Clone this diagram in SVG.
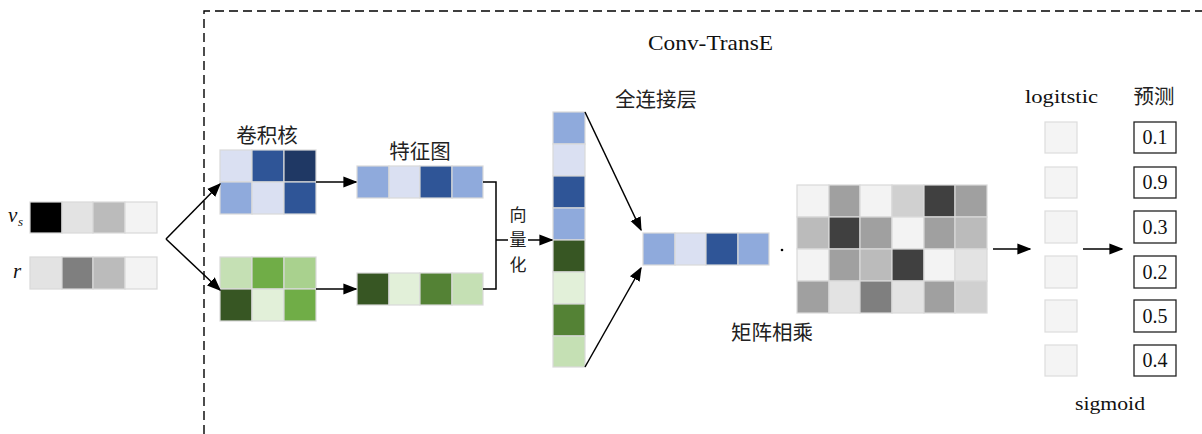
<svg xmlns="http://www.w3.org/2000/svg" width="1202" height="434" viewBox="0 0 1202 434">
<defs>
<style>
.c{stroke:#d9d9d9;stroke-width:1.2}
.ln{stroke:#000;stroke-width:1.5;fill:none}
.cn{font-family:"Noto Sans CJK SC","Noto Sans CJK JP",sans-serif;font-size:20.5px;fill:#222}
.sf{font-family:"Liberation Serif","DejaVu Serif",serif;fill:#111}
.lg{fill:#f4f4f4;stroke:#dcdcdc;stroke-width:1.2}
.pr{fill:#fff;stroke:#222;stroke-width:1.3}
</style>
<marker id="ah2" viewBox="0 0 10 10" refX="9" refY="5" markerWidth="14" markerHeight="14" markerUnits="userSpaceOnUse" orient="auto">
<path d="M0,1 L10,5 L0,9 z" fill="#000"/>
</marker>
</defs>
<rect width="1202" height="434" fill="#fff"/>
<path d="M204,434 L204,11 L1202,11" fill="none" stroke="#000" stroke-width="1.4" stroke-dasharray="9 5"/>
<text class="sf" x="648" y="50" font-size="21" textLength="125" lengthAdjust="spacingAndGlyphs">Conv-TransE</text>

<g id="vs">
<rect class="c" x="30" y="202" width="32" height="31" fill="#000"/>
<rect class="c" x="62" y="202" width="31" height="31" fill="#e3e3e3"/>
<rect class="c" x="93" y="202" width="32" height="31" fill="#bbbbbb"/>
<rect class="c" x="125" y="202" width="32" height="31" fill="#f3f3f3"/>
<text class="sf" x="8" y="222" font-size="21" font-style="italic">v</text>
<text class="sf" x="18" y="226" font-size="13" font-style="italic">s</text>
</g>
<g id="r">
<rect class="c" x="30" y="257" width="32" height="32" fill="#e3e3e3"/>
<rect class="c" x="62" y="257" width="31" height="32" fill="#7f7f7f"/>
<rect class="c" x="93" y="257" width="32" height="32" fill="#bbbbbb"/>
<rect class="c" x="125" y="257" width="32" height="32" fill="#f3f3f3"/>
<text class="sf" x="13" y="278" font-size="21" font-style="italic">r</text>
</g>

<g id="kernel-blue">
<rect class="c" x="220" y="150" width="32" height="32" fill="#dae0f2"/>
<rect class="c" x="252" y="150" width="32" height="32" fill="#2f5597"/>
<rect class="c" x="284" y="150" width="32" height="32" fill="#1f3864"/>
<rect class="c" x="220" y="182" width="32" height="32" fill="#8faadc"/>
<rect class="c" x="252" y="182" width="32" height="32" fill="#dae0f2"/>
<rect class="c" x="284" y="182" width="32" height="32" fill="#2f5597"/>
<text class="cn" x="267" y="143" text-anchor="middle">卷积核</text>
</g>
<g id="kernel-green">
<rect class="c" x="220" y="257" width="32" height="32" fill="#c5e0b4"/>
<rect class="c" x="252" y="257" width="32" height="32" fill="#70ad47"/>
<rect class="c" x="284" y="257" width="32" height="32" fill="#a9d18e"/>
<rect class="c" x="220" y="289" width="32" height="32" fill="#375623"/>
<rect class="c" x="252" y="289" width="32" height="32" fill="#e2f0d9"/>
<rect class="c" x="284" y="289" width="32" height="32" fill="#70ad47"/>
</g>

<g id="feature-blue">
<rect class="c" x="357" y="166" width="32" height="32" fill="#8faadc"/>
<rect class="c" x="389" y="166" width="31" height="32" fill="#dae0f2"/>
<rect class="c" x="420" y="166" width="32" height="32" fill="#2f5597"/>
<rect class="c" x="452" y="166" width="31" height="32" fill="#8faadc"/>
<text class="cn" x="420" y="159" text-anchor="middle">特征图</text>
</g>
<g id="feature-green">
<rect class="c" x="357" y="273" width="32" height="32" fill="#375623"/>
<rect class="c" x="389" y="273" width="31" height="32" fill="#e2f0d9"/>
<rect class="c" x="420" y="273" width="32" height="32" fill="#548235"/>
<rect class="c" x="452" y="273" width="31" height="32" fill="#c5e0b4"/>
</g>

<g id="vector">
<rect class="c" x="553" y="112" width="32" height="32" fill="#8faadc"/>
<rect class="c" x="553" y="144" width="32" height="32" fill="#dae0f2"/>
<rect class="c" x="553" y="176" width="32" height="32" fill="#2f5597"/>
<rect class="c" x="553" y="208" width="32" height="32" fill="#8faadc"/>
<rect class="c" x="553" y="240" width="32" height="32" fill="#375623"/>
<rect class="c" x="553" y="272" width="32" height="32" fill="#e2f0d9"/>
<rect class="c" x="553" y="304" width="32" height="32" fill="#548235"/>
<rect class="c" x="553" y="336" width="32" height="31" fill="#c5e0b4"/>
</g>

<g id="fc-out">
<rect class="c" x="643" y="233" width="32" height="32" fill="#8faadc"/>
<rect class="c" x="675" y="233" width="31" height="32" fill="#dae0f2"/>
<rect class="c" x="706" y="233" width="32" height="32" fill="#2f5597"/>
<rect class="c" x="738" y="233" width="31" height="32" fill="#8faadc"/>
<text class="cn" x="615" y="107">全连接层</text>
<circle cx="782" cy="250" r="1.3" fill="#000"/>
</g>

<g id="matrix">
<rect class="c" x="797" y="185" width="32" height="32" fill="#f3f3f3"/>
<rect class="c" x="829" y="185" width="31" height="32" fill="#a0a0a0"/>
<rect class="c" x="860" y="185" width="32" height="32" fill="#f3f3f3"/>
<rect class="c" x="892" y="185" width="32" height="32" fill="#d0d0d0"/>
<rect class="c" x="924" y="185" width="31" height="32" fill="#404040"/>
<rect class="c" x="955" y="185" width="32" height="32" fill="#a0a0a0"/>
<rect class="c" x="797" y="217" width="32" height="32" fill="#bbbbbb"/>
<rect class="c" x="829" y="217" width="31" height="32" fill="#404040"/>
<rect class="c" x="860" y="217" width="32" height="32" fill="#a0a0a0"/>
<rect class="c" x="892" y="217" width="32" height="32" fill="#f3f3f3"/>
<rect class="c" x="924" y="217" width="31" height="32" fill="#a0a0a0"/>
<rect class="c" x="955" y="217" width="32" height="32" fill="#bbbbbb"/>
<rect class="c" x="797" y="249" width="32" height="32" fill="#f3f3f3"/>
<rect class="c" x="829" y="249" width="31" height="32" fill="#a0a0a0"/>
<rect class="c" x="860" y="249" width="32" height="32" fill="#bbbbbb"/>
<rect class="c" x="892" y="249" width="32" height="32" fill="#404040"/>
<rect class="c" x="924" y="249" width="31" height="32" fill="#f3f3f3"/>
<rect class="c" x="955" y="249" width="32" height="32" fill="#e3e3e3"/>
<rect class="c" x="797" y="281" width="32" height="32" fill="#a0a0a0"/>
<rect class="c" x="829" y="281" width="31" height="32" fill="#e3e3e3"/>
<rect class="c" x="860" y="281" width="32" height="32" fill="#7f7f7f"/>
<rect class="c" x="892" y="281" width="32" height="32" fill="#e3e3e3"/>
<rect class="c" x="924" y="281" width="31" height="32" fill="#a0a0a0"/>
<rect class="c" x="955" y="281" width="32" height="32" fill="#d0d0d0"/>
<text class="cn" x="731" y="340">矩阵相乘</text>
</g>

<g id="logistic">
<rect class="lg" x="1045" y="122" width="32" height="31"/>
<rect class="lg" x="1045" y="167" width="32" height="31"/>
<rect class="lg" x="1045" y="211" width="32" height="32"/>
<rect class="lg" x="1045" y="256" width="32" height="32"/>
<rect class="lg" x="1045" y="300" width="32" height="32"/>
<rect class="lg" x="1045" y="345" width="32" height="31"/>
<text class="sf" x="1025" y="103" font-size="19" textLength="73" lengthAdjust="spacingAndGlyphs">logitstic</text>
<text class="sf" x="1075" y="410" font-size="19" textLength="70" lengthAdjust="spacingAndGlyphs">sigmoid</text>
</g>

<g id="prediction" class="sf" font-size="20" text-anchor="middle">
<text class="cn" x="1154" y="104" text-anchor="middle">预测</text>
<rect class="pr" x="1134" y="122" width="42" height="31"/><text x="1155" y="144">0.1</text>
<rect class="pr" x="1134" y="167" width="42" height="31"/><text x="1155" y="189">0.9</text>
<rect class="pr" x="1134" y="211" width="42" height="32"/><text x="1155" y="234">0.3</text>
<rect class="pr" x="1134" y="256" width="42" height="32"/><text x="1155" y="279">0.2</text>
<rect class="pr" x="1134" y="300" width="42" height="32"/><text x="1155" y="323">0.5</text>
<rect class="pr" x="1134" y="345" width="42" height="31"/><text x="1155" y="367">0.4</text>
</g>

<g id="connectors">
<line class="ln" x1="166" y1="239" x2="220" y2="184" marker-end="url(#ah2)"/>
<line class="ln" x1="166" y1="239" x2="220" y2="290" marker-end="url(#ah2)"/>
<line class="ln" x1="316" y1="182" x2="356" y2="182" marker-end="url(#ah2)"/>
<line class="ln" x1="316" y1="289" x2="356" y2="289" marker-end="url(#ah2)"/>
<path class="ln" d="M483,182 L496,182 L496,289 L483,289"/>
<line class="ln" x1="496" y1="240" x2="552" y2="240" marker-end="url(#ah2)"/>
<line class="ln" x1="585" y1="112" x2="641" y2="230" marker-end="url(#ah2)"/>
<line class="ln" x1="585" y1="367" x2="641" y2="268" marker-end="url(#ah2)"/>
<line class="ln" x1="993" y1="249" x2="1030" y2="249" marker-end="url(#ah2)"/>
<line class="ln" x1="1083" y1="249" x2="1122" y2="249" marker-end="url(#ah2)"/>
</g>
<g id="vectorize-label">
<rect x="508" y="230" width="20" height="20" fill="#fff"/>
<text class="cn" style="font-size:17px" text-anchor="middle"><tspan x="518" y="221">向</tspan><tspan x="518" y="246">量</tspan><tspan x="518" y="271">化</tspan></text>
</g>
</svg>
